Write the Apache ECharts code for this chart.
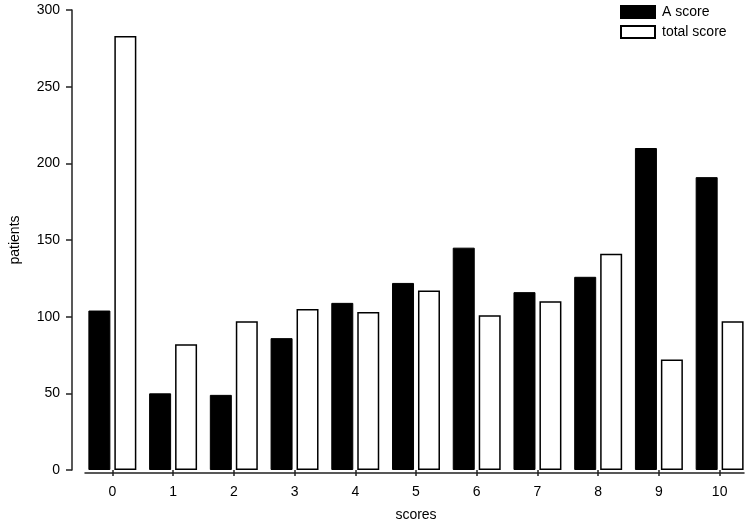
<!DOCTYPE html>
<html>
<head>
<meta charset="utf-8">
<title>scores</title>
<script src="https://cdn.jsdelivr.net/npm/echarts@6/dist/echarts.min.js"></script>
<style>
  html, body { margin: 0; padding: 0; background: #fff; }
  #chart { width: 750px; height: 527px; }
</style>
</head>
<body>
<div id="chart"></div>
<script>
const categories = ['0', '1', '2', '3', '4', '5', '6', '7', '8', '9', '10']
const aScore = [104, 50, 49, 86, 109, 122, 145, 116, 126, 210, 191]
const totalScore = [283, 82, 97, 105, 103, 117, 101, 110, 141, 72, 97]
const yMin = 0
const yMax = 300
const yStep = 50

const font = 'Liberation Sans, Arial, sans-serif'
const ink = '#222'

const chart = echarts.init(document.getElementById('chart'))

const option = {
  backgroundColor: '#fff',
  animation: false,
  textStyle: { fontFamily: font },
  legend: {
    orient: 'vertical',
    left: 620,
    top: 5,
    padding: 0,
    itemWidth: 34,
    itemHeight: 12,
    itemGap: 6,
    icon: 'rect',
    textStyle: { fontSize: 14, color: '#000', fontFamily: font, padding: [0, 0, 0, 2] },
    data: ['A score', 'total score']
  },
  grid: [
    // bars live here, bands span 80..750
    { left: 80, right: 0, top: 10, bottom: 54 },
    // only used for the detached x axis line (85..744)
    { left: 85, right: 6, top: 10, bottom: 54 }
  ],
  xAxis: [
    {
      type: 'category',
      gridIndex: 0,
      data: categories,
      name: 'scores',
      nameLocation: 'middle',
      nameGap: 38,
      nameTextStyle: { fontSize: 14, color: '#000' },
      axisLine: { show: false },
      axisTick: { show: true, alignWithLabel: true, length: 6, lineStyle: { color: ink, width: 1.5 } },
      axisLabel: { fontSize: 14, color: '#000', margin: 15 }
    },
    {
      type: 'value',
      gridIndex: 1,
      min: 0,
      max: 1,
      axisLine: { show: true, lineStyle: { color: ink, width: 1.5 } },
      axisTick: { show: false },
      axisLabel: { show: false },
      splitLine: { show: false }
    }
  ],
  yAxis: [
    {
      type: 'value',
      gridIndex: 0,
      min: yMin,
      max: yMax,
      interval: yStep,
      offset: 10,
      name: 'patients',
      nameLocation: 'middle',
      nameGap: 50,
      nameTextStyle: { fontSize: 14, color: '#000' },
      axisLine: { show: true, lineStyle: { color: ink, width: 1.5 } },
      axisTick: { show: true, length: 6, lineStyle: { color: ink, width: 1.5 } },
      axisLabel: { fontSize: 14, color: '#000', margin: 12 },
      splitLine: { show: false }
    },
    {
      type: 'value',
      gridIndex: 1,
      show: false
    }
  ],
  series: [
    {
      name: 'A score',
      type: 'bar',
      xAxisIndex: 0,
      yAxisIndex: 0,
      barWidth: 22,
      barGap: '18%',
      itemStyle: { color: '#000', borderColor: '#000', borderWidth: 1 },
      data: aScore
    },
    {
      name: 'total score',
      type: 'bar',
      xAxisIndex: 0,
      yAxisIndex: 0,
      barWidth: 22,
      barGap: '18%',
      itemStyle: { color: '#fff', borderColor: '#000', borderWidth: 1.5 },
      data: totalScore
    }
  ]
}

chart.setOption(option)
</script>
</body>
</html>
